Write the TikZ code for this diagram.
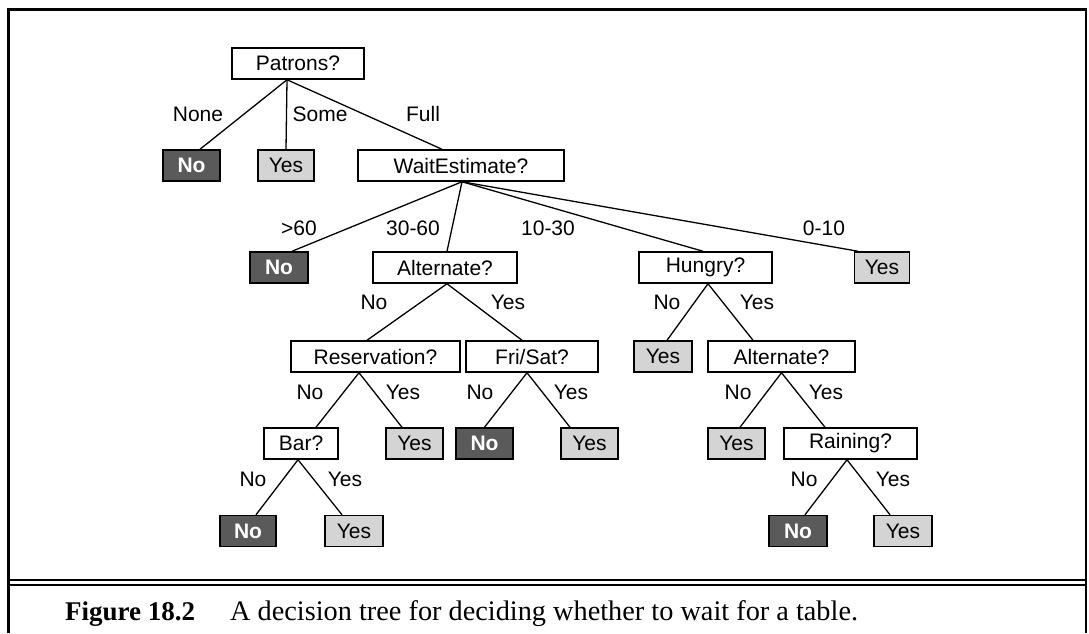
\documentclass[tikz,border=0pt]{standalone}
\usepackage{fontspec}
\setmainfont{Liberation Serif}
\setsansfont{Liberation Sans}
\usepackage{xcolor}
\usepackage{tikz}
\usetikzlibrary{positioning,calc}

\definecolor{leafdark}{HTML}{5A5A5A}
\definecolor{leaflight}{HTML}{D4D4D4}
\newcommand{\treefont}{\sffamily\fontsize{21}{24}\selectfont}
\newcommand{\capfont}{\fontsize{28.3}{32}\selectfont}
\newcommand{\capnumfont}{\fontsize{27}{32}\selectfont\bfseries}

\begin{document}
\begin{tikzpicture}[x=1pt, y=-1pt,
  attr/.style={draw, line width=1.5pt, fill=white, minimum height=31pt, inner sep=0pt, font=\treefont},
  leafno/.style={attr, fill=leafdark, text=white, font=\treefont\bfseries},
  leafyes/.style={attr, fill=leaflight},
  branch/.style={line width=1.3pt},
  lbl/.style={inner sep=0pt, font=\treefont}]
  \useasboundingbox (0,0) rectangle (1089,633);

  % Frame
  \draw[line width=2.5pt] (8.5,633) -- (8.5,9.5) -- (1086,9.5) -- (1086,633);
  \draw[line width=2pt] (8.5,579.5) -- (1086,579.5);
  \draw[line width=2pt] (8.5,584.5) -- (1086,584.5);

  % Tests and leaves
  \node[attr, minimum width=132pt] (patrons) at (298,63.5) {Patrons?};
  \node[leafno, minimum width=57pt] (none) at (191.5,165.5) {No};
  \node[leafyes, minimum width=56pt] (some) at (286,165.5) {Yes};
  \node[attr, minimum width=206pt] (wait) at (461,165.5) {WaitEstimate?};
  \node[leafno, minimum width=58pt] (over60) at (279,267.5) {No};
  \node[attr, minimum width=144pt] (alt) at (445,267.5) {Alternate?};
  \node[attr, minimum width=133pt] (hungry) at (705.5,267.5) {Hungry?};
  \node[leafyes, minimum width=55pt] (under10) at (882,267.5) {Yes};
  \node[attr, minimum width=169pt] (reserv) at (375.5,356.5) {Reservation?};
  \node[attr, minimum width=132pt] (frisat) at (532,356.5) {Fri/Sat?};
  \node[leafyes, minimum width=58pt] (nothungry) at (663,356.5) {Yes};
  \node[attr, minimum width=147pt] (alttwo) at (781.5,356.5) {Alternate?};
  \node[attr, minimum width=74pt] (bar) at (301,443.5) {Bar?};
  \node[leafyes, minimum width=57pt] (reservyes) at (414.5,443.5) {Yes};
  \node[leafno, minimum width=57pt] (frisatno) at (484.5,443.5) {No};
  \node[leafyes, minimum width=57pt] (frisatyes) at (589.5,443.5) {Yes};
  \node[leafyes, minimum width=57pt] (alttwono) at (736.5,443.5) {Yes};
  \node[attr, minimum width=133pt] (raining) at (850.5,443.5) {Raining?};
  \node[leafno, minimum width=56pt] (barno) at (248,531) {No};
  \node[leafyes, minimum width=58pt] (baryes) at (354,531) {Yes};
  \node[leafno, minimum width=58pt] (rainno) at (798,531) {No};
  \node[leafyes, minimum width=58pt] (rainyes) at (903,531) {Yes};

  % Branches
  \draw[branch] ([xshift=-11pt]patrons.south) -- ([xshift=8.5pt]none.north);
  \draw[branch] ([xshift=-11pt]patrons.south) -- (some.north);
  \draw[branch] ([xshift=-11pt]patrons.south) -- ([xshift=-19pt]wait.north);
  \draw[branch] ([xshift=1pt]wait.south) -- ([xshift=13pt]over60.north);
  \draw[branch] ([xshift=1pt]wait.south) -- ([xshift=2pt]alt.north);
  \draw[branch] ([xshift=1pt]wait.south) -- ([xshift=-2.5pt]hungry.north);
  \draw[branch] ([xshift=1pt]wait.south) -- ([xshift=-24pt]under10.north);
  \draw[branch] ([xshift=2pt]alt.south) -- ([xshift=-8.5pt]reserv.north);
  \draw[branch] ([xshift=2pt]alt.south) -- ([xshift=-10pt]frisat.north);
  \draw[branch] ([xshift=2.5pt]hungry.south) -- ([xshift=4pt]nothungry.north);
  \draw[branch] ([xshift=2.5pt]hungry.south) -- ([xshift=-28.5pt]alttwo.north);
  \draw[branch] ([xshift=-16.5pt]reserv.south) -- ([xshift=15pt]bar.north);
  \draw[branch] ([xshift=-16.5pt]reserv.south) -- ([xshift=-12.5pt]reservyes.north);
  \draw[branch] ([xshift=-5pt]frisat.south) -- (frisatno.north);
  \draw[branch] ([xshift=-5pt]frisat.south) -- ([xshift=-19.5pt]frisatyes.north);
  \draw[branch] (alttwo.south) -- ([xshift=3.5pt]alttwono.north);
  \draw[branch] (alttwo.south) -- ([xshift=-25.5pt]raining.north);
  \draw[branch] ([xshift=-3pt]bar.south) -- ([xshift=8pt]barno.north);
  \draw[branch] ([xshift=-3pt]bar.south) -- ([xshift=-12pt]baryes.north);
  \draw[branch] ([xshift=-3.5pt]raining.south) -- ([xshift=7pt]rainno.north);
  \draw[branch] ([xshift=-3.5pt]raining.south) -- ([xshift=-13pt]rainyes.north);

  % Branch labels
  \node[lbl] (lnone) at (198,114) {None};
  \node[lbl] (lsome) at (320,114) {Some};
  \node[lbl] (lfull) at (423,114) {Full};
  \node[lbl] (lover60) at (299,228) {>60};
  \node[lbl] (l3060) at (413,228) {30-60};
  \node[lbl] (l1030) at (548,228) {10-30};
  \node[lbl] (l010) at (824,228) {0-10};
  \node[lbl] (laltno) at (374,302) {No};
  \node[lbl] (laltyes) at (508,302) {Yes};
  \node[lbl] (lhungryno) at (667,302) {No};
  \node[lbl] (lhungryyes) at (757,302) {Yes};
  \node[lbl] (lreservno) at (310,392) {No};
  \node[lbl] (lreservyes) at (403,392) {Yes};
  \node[lbl] (lfrisatno) at (480,392) {No};
  \node[lbl] (lfrisatyes) at (571,392) {Yes};
  \node[lbl] (lalttwono) at (738,392) {No};
  \node[lbl] (lalttwoyes) at (826,392) {Yes};
  \node[lbl] (lbarno) at (253,479) {No};
  \node[lbl] (lbaryes) at (345,479) {Yes};
  \node[lbl] (lrainno) at (804,479) {No};
  \node[lbl] (lrainyes) at (893,479) {Yes};

  % Caption
  \node[anchor=base west, inner sep=0pt, font=\capnumfont] (fignum) at (65,620) {Figure 18.2};
  \node[anchor=base west, inner sep=0pt, font=\capfont] (figtext) at (230,620) {A decision tree for deciding whether to wait for a table.};
\end{tikzpicture}
\end{document}
